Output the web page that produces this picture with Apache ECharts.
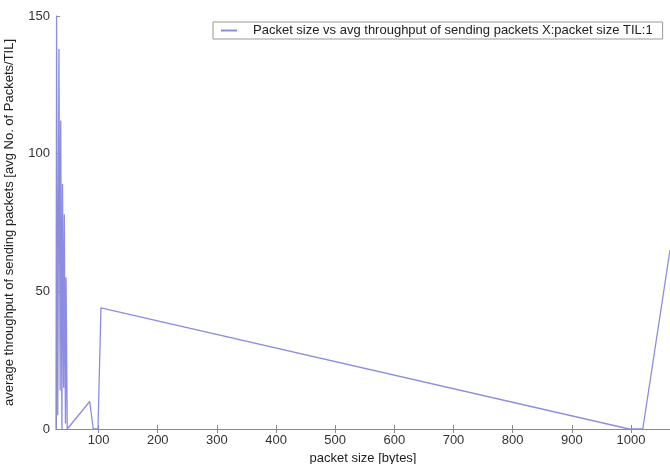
<!DOCTYPE html>
<html><head><meta charset="utf-8">
<script src="https://cdn.jsdelivr.net/npm/echarts@6/dist/echarts.min.js"></script>
<style>html,body{margin:0;padding:0;background:#fff}#c{width:670px;height:464px}</style>
</head><body><div id="c"></div>
<script>
const packetSize = [28, 29, 31, 33, 35, 36, 38, 39, 41, 42, 44, 45, 47, 85, 91, 99, 104, 997, 1020, 1066];
const throughput = [0, 150, 5, 138, 14, 112, 0, 89, 15, 78, 2, 55, 0, 10, 0, 0, 44, 0, 0, 65];
const xTicks = [100, 200, 300, 400, 500, 600, 700, 800, 900, 1000];
const yTicks = [0, 50, 100, 150];
const seriesName = 'Packet size vs avg throughput of sending packets X:packet size TIL:1';

const chart = echarts.init(document.getElementById('c'));
const axisCol = '#8a8a8a';
const font = 'Liberation Sans, Arial, sans-serif';
chart.setOption({
  animation: false,
  backgroundColor: '#fff',
  grid: { left: 56, top: 16, right: 0, bottom: 35, containLabel: false, outerBoundsMode: 'none' },
  legend: {
    left: 213, top: 22, orient: 'horizontal',
    data: [seriesName],
    itemWidth: 16, itemHeight: 2, itemGap: 6,
    padding: [2, 10, 2, 8],
    borderColor: '#999', borderWidth: 1, backgroundColor: '#fff',
    textStyle: { fontFamily: font, fontSize: 13, color: '#222', padding: [0, 0, 0, 11] },
    icon: 'rect'
  },
  xAxis: [{
    type: 'value', min: 28, max: 1066,
    name: 'packet size [bytes]', nameLocation: 'middle', nameGap: 21,
    nameTextStyle: { fontFamily: font, fontSize: 13, color: '#222' },
    axisLine: { show: true, onZero: false, lineStyle: { color: axisCol } },
    axisTick: { show: true, inside: true, length: 4, customValues: xTicks, lineStyle: { color: axisCol } },
    axisLabel: { customValues: xTicks, formatter: v => String(v), fontFamily: font, fontSize: 13, color: '#333', margin: 5 },
    splitLine: { show: false }
  }, {
    type: 'value', min: 28, max: 1066, position: 'top',
    axisLine: { show: true, lineStyle: { color: axisCol } },
    axisTick: { show: true, inside: true, length: 4, customValues: xTicks, lineStyle: { color: axisCol } },
    axisLabel: { show: false }, splitLine: { show: false }
  }],
  yAxis: {
    type: 'value', min: 0, max: 150,
    name: 'average throughput of sending packets [avg No. of Packets/TIL]',
    nameLocation: 'middle', nameGap: 40,
    nameTextStyle: { fontFamily: font, fontSize: 13, color: '#222' },
    axisLine: { show: true, lineStyle: { color: axisCol } },
    axisTick: { show: true, inside: true, length: 4, customValues: yTicks, lineStyle: { color: axisCol } },
    axisLabel: { customValues: yTicks, formatter: v => String(v), fontFamily: font, fontSize: 13, color: '#333', margin: 6 },
    splitLine: { show: false }
  },
  series: [{
    name: seriesName, type: 'line', xAxisIndex: 0,
    data: packetSize.map((x, i) => [x, throughput[i]]),
    showSymbol: false, symbol: 'none', clip: true,
    lineStyle: { color: '#8c8ce0', width: 1.3 },
    itemStyle: { color: '#8c8ce0' }
  }]
});
</script></body></html>
